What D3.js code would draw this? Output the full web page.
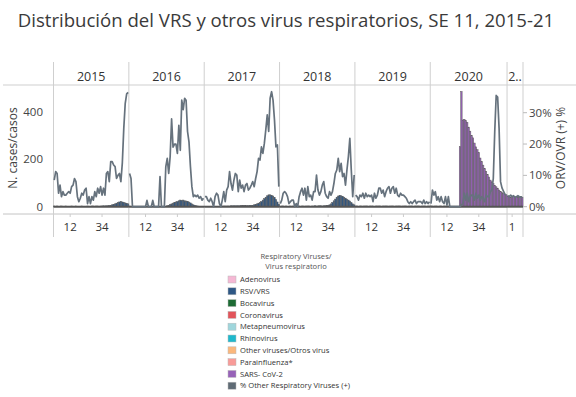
<!DOCTYPE html>
<html><head><meta charset="utf-8">
<script src="https://cdn.jsdelivr.net/npm/d3@7"></script>
<style>
html,body{margin:0;padding:0;background:#fff;}
svg{display:block;font-family:"Open Sans","Noto Sans",sans-serif;}
</style></head><body>
<svg id="chart" width="576" height="397"></svg>
<script>
// ---- data ----
const years = ["2015","2016","2017","2018","2019","2020","2021"];
const yearHeaders = ["2015","2016","2017","2018","2019","2020","2.."];
const weeksPerYear = [52,52,52,52,52,53,11];
const weekTicks = [[12,34],[12,34],[12,34],[12,34],[12,34],[12,34],[4]];
const weekTickLabels = [["12","34"],["12","34"],["12","34"],["12","34"],["12","34"],["12","34"],["1"]];
const casesTicks = [0,200,400];
const pctTicks = [0,10,20,30];

// % positivity of other respiratory viruses, per epidemiological week
const orvPct = [
  [8.5,11.2,10.6,4.3,6.9,3.2,4.8,3.7,3.7,4.3,4.8,4.3,6.4,6.9,9,8,3.2,1.6,2.7,4.3,3.7,5.3,5.9,1,3.2,1,3.2,2.1,4.8,3.2,5.9,4.3,6.4,3.7,5.9,3.7,10.6,11.2,8,14.4,14.4,13.3,12.8,9,10,10.6,8,14,25,33,36,36.5],
  [10.6,9,0,0,0,0,0,0,0,0,0,0,2,0,0,0,2,0,0,0,0,9.6,0,0,0,12.8,15.4,10.6,16,28,19,20,20,17,26,18,34,31,34.6,34,24,20.7,12.8,6.4,3.2,3.7,3.2,3.7,2.7,3.2,2.1,2.7],
  [3.2,3.2,2.1,1.6,2.7,1.6,0,3.2,4.3,3.7,1,0,2.1,4.8,1.6,5.3,6.4,11.2,7.4,5.3,8.5,10.6,10.1,4.8,8.5,5.9,6.9,4.8,6.9,7.4,5.3,5.9,6.9,8,6.4,9,11.2,15.4,14.9,19.1,17,20.2,24.5,29.3,24,34.6,36.7,34,27.7,19.1,19.7,6.4],
  [1,2.1,4.3,4.8,4.3,3.2,1,1.6,2.1,2.1,0,1,0,3.2,4.8,5.9,3.7,5.9,2.1,6.4,3.2,3.7,2.1,4.8,4.8,10.1,5.3,3.7,4.8,6.9,8,4.3,3.2,2.7,4.8,3.7,4.8,7.4,10.6,11.7,15.4,11.2,13.8,9.6,10.6,6.9,11.7,16,21.8,11.7,3.2,10.1],
  [3.7,3.2,2.1,3.7,3.2,4.3,2.7,4.3,3.2,3.7,3.2,3.7,1.6,4.3,2.7,3.7,5.9,5.9,4.3,5.3,3.2,4.8,5.9,6.4,4.3,5.9,6.4,4.3,5.9,3.7,3.2,4.3,3.7,3.7,3.2,2.7,1.6,1,1.6,1,1.6,2.1,1,1.6,1.6,1.6,1,2.1,1,1.6,1,1.6],
  [1,5.3,3.7,4.8,2.1,3.2,1.6,3.2,1.6,1,3.2,0.5,3.2,0,0,0,0,0,0,0,0,0.5,1,4.3,2.1,4.3,1.6,3.2,3.7,3.7,2.1,4.3,2.7,3.7,2.1,3.2,2.7,1.6,3.7,3.2,3.2,4.8,5.3,9,24,35.5,35,25,8,6,5,4,3.7],
  [3.5,3.2,3.7,3.2,3.5,3.0,3.2,3.5,3.2,3.0,3.2]
];

// weekly RSV/VRS detections
const rsvCases = [
  [3,2,3,2,2,3,2,2,3,2,2,2,3,2,2,3,2,2,2,3,2,2,2,3,2,2,3,3,2,3,3,2,3,3,4,3,4,4,5,6,8,10,12,15,18,20,22,20,18,16,14,12],
  [3,2,0,0,0,0,0,0,0,0,0,0,0,0,0,0,0,0,0,0,0,0,0,0,0,2,4,6,9,12,15,18,20,22,25,28,26,28,25,24,22,20,16,12,8,6,4,3,2,2,2,2],
  [2,2,2,2,2,2,2,2,2,2,2,2,3,3,3,3,3,3,4,4,4,4,4,4,4,5,5,5,5,4,5,5,6,6,8,10,12,15,18,22,28,34,40,46,50,50,48,45,38,30,20,10],
  [2,3,3,2,3,2,2,3,2,3,2,2,3,3,2,3,3,2,3,3,3,2,3,3,4,3,3,4,4,3,4,4,5,6,8,12,18,25,32,40,45,48,46,44,40,36,32,28,24,18,12,8],
  [3,3,2,3,3,2,3,3,3,2,3,3,3,2,3,3,3,3,2,3,3,3,3,2,3,3,3,2,3,3,3,3,2,3,3,3,2,3,3,3,2,3,3,3,3,2,3,3,3,2,3,3],
  [3,3,2,3,3,2,3,3,2,3,3,2,3,2,2,2,2,2,2,2,0,0,0,0,0,0,0,0,0,0,0,0,0,0,0,0,0,0,0,0,0,0,0,0,0,0,0,0,0,0,0,0,0],
  [0,0,0,0,0,0,0,0,0,0,0]
];

// weekly SARS-CoV-2 detections
const sarsCov2Cases = [
  [], [], [], [], [],
  [0,0,0,0,0,0,0,0,0,0,0,0,0,0,0,0,0,0,0,0,253,485,365,368,362,355,335,318,300,290,268,252,240,228,205,190,175,160,148,135,125,112,105,98,90,84,78,70,64,60,56,52,50],
  [45,42,40,44,42,40,42,38,40,42,40]
];

const legendTitle = ["Respiratory Viruses/","Virus respiratorio"];
const legendNames = ["Adenovirus","RSV/VRS","Bocavirus","Coronavirus","Metapneumovirus","Rhinovirus","Other viruses/Otros virus","Parainfluenza*","SARS- CoV-2","% Other Respiratory Viruses (+)"];
const legendColors = ["#f5b8d4","#2e5785","#1d6b34","#e2545a","#9fd6dc","#1fb8cc","#fbb77c","#f89b98","#9762b8","#5f6b75"];
const color = d3.scaleOrdinal().domain(legendNames).range(legendColors);

// ---- layout ----
const svg = d3.select("#chart");
const plotLeft = 53.5, plotRight = 523, headerTop = 62, plotTop = 85, axisY = 214, bottom = 237;

// one record per week across all years
const weeks = [];
years.forEach((yr, yi) => {
  for (let w = 1; w <= weeksPerYear[yi]; w++) {
    weeks.push({
      key: yr + "-" + w, yi, w,
      rsv: rsvCases[yi][w-1] || 0,
      sars: (sarsCov2Cases[yi][w-1]) || 0,
      pct: orvPct[yi][w-1]
    });
  }
});

const x = d3.scaleBand().domain(weeks.map(d => d.key)).range([plotLeft, plotRight]).padding(0);
const bw = x.bandwidth();
const yCases = d3.scaleLinear().domain([0, 400]).range([206.7, 111.7]);
const yPct = d3.scaleLinear().domain([0, 30]).range([206.7, 112.7]);

// title
svg.append("text").attr("x", 286).attr("y", 27).attr("text-anchor", "middle")
  .attr("font-size", 18.6).attr("fill", "#3a3a3a")
  .text("Distribución del VRS y otros virus respiratorios, SE 11, 2015-21");

// frame lines
const gridColor = "#cfcfcf";
svg.append("line").attr("x1", 3).attr("x2", 576).attr("y1", plotTop).attr("y2", plotTop).attr("stroke", gridColor);
svg.append("line").attr("x1", 3).attr("x2", 576).attr("y1", axisY).attr("y2", axisY).attr("stroke", "#c4c4c4");

const yearStart = years.map(yr => x(yr + "-1"));
const dividers = yearStart.concat([plotRight]);
svg.append("g").selectAll("line").data(dividers).join("line")
  .attr("x1", d => d).attr("x2", d => d).attr("y1", headerTop).attr("y2", bottom)
  .attr("stroke", gridColor);

// year headers
svg.append("g").selectAll("text").data(yearHeaders).join("text")
  .attr("x", (d, i) => (dividers[i] + dividers[i+1]) / 2)
  .attr("y", 81).attr("text-anchor", "middle")
  .attr("font-size", 12.5).attr("fill", "#333").text(d => d);

// bars (stacked)
const keys = ["rsv", "sars"];
const keyColor = {rsv: color("RSV/VRS"), sars: color("SARS- CoV-2")};
const stacked = d3.stack().keys(keys)(weeks);
const barG = svg.append("g");
stacked.forEach(layer => {
  barG.append("g").selectAll("rect").data(layer.filter(s => s[1] - s[0] > 0)).join("rect")
    .attr("x", s => x(s.data.key))
    .attr("width", bw)
    .attr("y", s => yCases(s[1]))
    .attr("height", s => yCases(s[0]) - yCases(s[1]))
    .attr("fill", keyColor[layer.key])
    .attr("stroke", "#5d5d5d").attr("stroke-width", 0.5);
});

// zero line
years.forEach((yr, yi) => {
  svg.append("line").attr("x1", dividers[yi]).attr("x2", dividers[yi+1])
    .attr("y1", yCases(0)).attr("y2", yCases(0))
    .attr("stroke", "#555").attr("stroke-width", 2);
});

// % line, one segment per year pane
const line = d3.line().x(d => x(d.key) + bw / 2).y(d => yPct(d.pct));
years.forEach((yr, yi) => {
  svg.append("path").datum(weeks.filter(d => d.yi === yi))
    .attr("d", line).attr("fill", "none")
    .attr("stroke", "#66727d").attr("stroke-width", 1.7).attr("stroke-linejoin", "round");
});

// left axis
const axL = svg.append("g");
axL.selectAll("text").data(casesTicks).join("text")
  .attr("x", 43).attr("y", d => yCases(d)).attr("dy", "0.35em")
  .attr("text-anchor", "end").attr("font-size", 11.5).attr("fill", "#444").text(d => d);
svg.append("text").attr("transform", "translate(17,148) rotate(-90)")
  .attr("text-anchor", "middle").attr("font-size", 12).attr("fill", "#444").text("N. cases/casos");

// right axis
const axR = svg.append("g");
axR.selectAll("line").data(pctTicks).join("line")
  .attr("x1", plotRight).attr("x2", plotRight + 4).attr("y1", d => yPct(d)).attr("y2", d => yPct(d))
  .attr("stroke", "#bbb");
axR.selectAll("text").data(pctTicks).join("text")
  .attr("x", 529).attr("y", d => yPct(d)).attr("dy", "0.35em")
  .attr("font-size", 11.5).attr("fill", "#444").text(d => d + "%");
svg.append("text").attr("transform", "translate(565,148) rotate(-90)")
  .attr("text-anchor", "middle").attr("font-size", 12).attr("fill", "#444").text("ORV/OVR (+) %");

// bottom week ticks
years.forEach((yr, yi) => {
  weekTicks[yi].forEach((wk, ti) => {
    const cx = x(yr + "-" + wk) + bw / 2;
    svg.append("line").attr("x1", cx).attr("x2", cx).attr("y1", axisY).attr("y2", axisY + 3).attr("stroke", "#ccc");
    svg.append("text").attr("x", cx).attr("y", 231).attr("text-anchor", "middle")
      .attr("font-size", 11.5).attr("fill", "#333").text(weekTickLabels[yi][ti]);
  });
});

// legend
const lg = svg.append("g").attr("font-size", 7.6);
lg.selectAll("text.t").data(legendTitle).join("text").attr("class", "t")
  .attr("x", 296).attr("y", (d, i) => 259 + i * 10).attr("text-anchor", "middle")
  .attr("fill", "#555").text(d => d);
const items = lg.selectAll("g.it").data(legendNames).join("g").attr("class", "it")
  .attr("transform", (d, i) => `translate(228,${279.5 + i * 11.8})`);
items.append("rect").attr("x", 0).attr("y", -3.5).attr("width", 8).attr("height", 7)
  .attr("fill", d => color(d)).attr("stroke", "#bbb").attr("stroke-width", 0.5);
items.append("text").attr("x", 12).attr("y", 0).attr("dy", "0.35em").attr("fill", "#333").text(d => d);
</script>
</body></html>
